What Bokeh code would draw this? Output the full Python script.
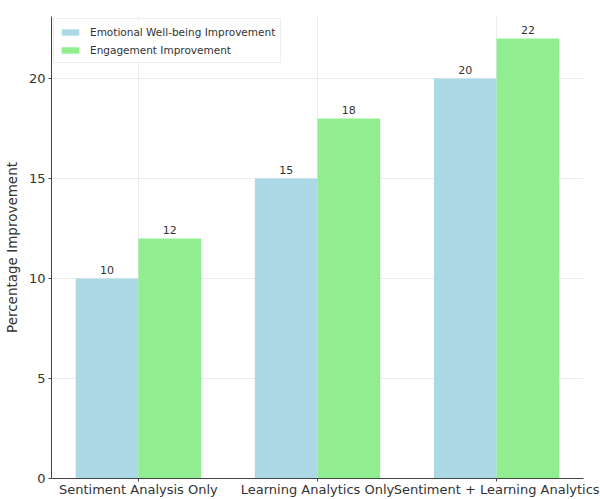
from bokeh.plotting import figure
from bokeh.models import ColumnDataSource, Range1d, FixedTicker, Legend, LegendItem
from bokeh.transform import dodge
from bokeh.embed import file_html
from bokeh.resources import INLINE

categories = ["Sentiment Analysis Only", "Learning Analytics Only", "Sentiment + Learning Analytics"]
emotional = [10, 15, 20]
engagement = [12, 18, 22]
series_names = ["Emotional Well-being Improvement", "Engagement Improvement"]
y_ticks = [0, 5, 10, 15, 20]

FONT = "DejaVu Sans"
BLUE = "#ADD8E6"
GREEN = "#90EE90"

idx = list(range(len(categories)))
src = ColumnDataSource(dict(
    x=idx,
    emo=emotional,
    eng=engagement,
    emo_txt=[str(v) for v in emotional],
    eng_txt=[str(v) for v in engagement],
))

p = figure(width=600, height=499, output_backend="svg", toolbar_location=None,
           x_range=Range1d(-0.485, 2.485), y_range=Range1d(0, 23.1),
           min_border_left=51, min_border_right=17, min_border_top=16, min_border_bottom=19)
p.outline_line_color = None
p.background_fill_color = "white"
p.border_fill_color = "white"

w = 0.35
r1 = p.vbar(x=dodge("x", -w / 2), top="emo", width=w, source=src, fill_color=BLUE, line_color=None)
r2 = p.vbar(x=dodge("x", w / 2), top="eng", width=w, source=src, fill_color=GREEN, line_color=None)

p.text(x=dodge("x", -w / 2), y="emo", text="emo_txt", source=src, text_align="center",
       text_baseline="bottom", y_offset=-5, text_font_size="11px", text_color="#333333",
       text_font={"value": FONT})
p.text(x=dodge("x", w / 2), y="eng", text="eng_txt", source=src, text_align="center",
       text_baseline="bottom", y_offset=-5, text_font_size="11px", text_color="#333333",
       text_font={"value": FONT})

# axes
p.xaxis.ticker = FixedTicker(ticks=idx)
p.xaxis.major_label_overrides = {i: c for i, c in enumerate(categories)}
p.yaxis.ticker = FixedTicker(ticks=y_ticks)
p.yaxis.axis_label = "Percentage Improvement"
for ax in (p.xaxis, p.yaxis):
    ax.axis_line_color = "#444444"
    ax.major_tick_line_color = "#444444"
    ax.minor_tick_line_color = None
    ax.major_tick_out = 3
    ax.major_tick_in = 0
    ax.major_label_text_font = FONT
    ax.major_label_text_font_size = "13px"
    ax.major_label_text_color = "#333333"
    ax.axis_label_text_font = FONT
    ax.axis_label_text_font_size = "13.5px"
    ax.axis_label_text_font_style = "normal"
    ax.axis_label_text_color = "#333333"
p.xaxis.major_label_standoff = 0
p.yaxis.major_label_standoff = 3
p.yaxis.axis_label_standoff = 6

p.xgrid.ticker = FixedTicker(ticks=idx)
p.ygrid.ticker = FixedTicker(ticks=y_ticks)
p.xgrid.grid_line_color = "#ebebeb"
p.ygrid.grid_line_color = "#ebebeb"

legend = Legend(items=[LegendItem(label=series_names[0], renderers=[r1]),
                       LegendItem(label=series_names[1], renderers=[r2])],
                location=(2, 415))
legend.label_text_font = FONT
legend.label_text_font_size = "10.5px"
legend.label_text_color = "#333333"
legend.glyph_width = 22
legend.glyph_height = 8
legend.label_height = 15
legend.spacing = 3
legend.padding = 5
legend.margin = 0
legend.label_standoff = 9
legend.border_line_color = "#dddddd"
legend.border_line_width = 1
legend.background_fill_alpha = 0.8
p.add_layout(legend)

open("out.html", "w").write(file_html(p, INLINE))
